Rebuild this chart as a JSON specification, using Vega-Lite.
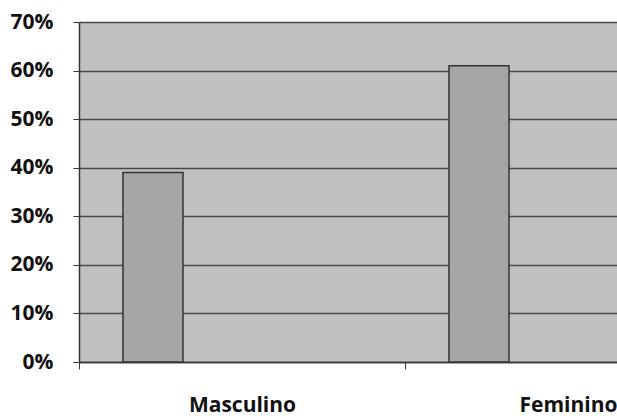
{
  "$schema": "https://vega.github.io/schema/vega-lite/v6.json",
  "autosize": "none",
  "padding": {"left": 79, "top": 22, "right": 0, "bottom": 56},
  "width": 652,
  "height": 340,
  "background": "white",
  "config": {
    "view": {"fill": "#c0c0c0", "stroke": null},
    "font": "Open Sans"
  },
  "data": {
    "values": [
      {"sexo": "Masculino", "serie": "s1", "valor": 0.39},
      {"sexo": "Feminino", "serie": "s1", "valor": 0.61}
    ]
  },
  "mark": {"type": "bar", "fill": "#a6a6a6", "stroke": "#333333", "strokeWidth": 1.5},
  "encoding": {
    "x": {
      "field": "sexo",
      "type": "nominal",
      "sort": ["Masculino", "Feminino"],
      "scale": {"paddingInner": 0, "paddingOuter": 0},
      "axis": {
        "title": null,
        "labelAngle": 0,
        "tickBand": "extent",
        "domainColor": "#333333",
        "domainWidth": 1.5,
        "tickColor": "#333333",
        "tickSize": 7,
        "labelFontSize": 21,
        "labelFontWeight": "bold",
        "labelColor": "#111111",
        "labelPadding": 25,
        "grid": false
      }
    },
    "xOffset": {
      "field": "serie",
      "type": "nominal",
      "scale": {"domain": ["s1", "s2"], "paddingInner": 0.663, "paddingOuter": 0.247}
    },
    "y": {
      "field": "valor",
      "type": "quantitative",
      "scale": {"domain": [0, 0.7], "nice": false},
      "axis": {
        "title": null,
        "values": [0, 0.1, 0.2, 0.3, 0.4, 0.5, 0.6, 0.7],
        "format": ".0%",
        "grid": true,
        "gridColor": "#4a4a4a",
        "gridWidth": 1.5,
        "domainColor": "#333333",
        "domainWidth": 1.5,
        "tickColor": "#333333",
        "tickSize": 6,
        "labelFontSize": 21,
        "labelFontWeight": "bold",
        "labelColor": "#111111",
        "labelPadding": 20
      }
    }
  }
}
